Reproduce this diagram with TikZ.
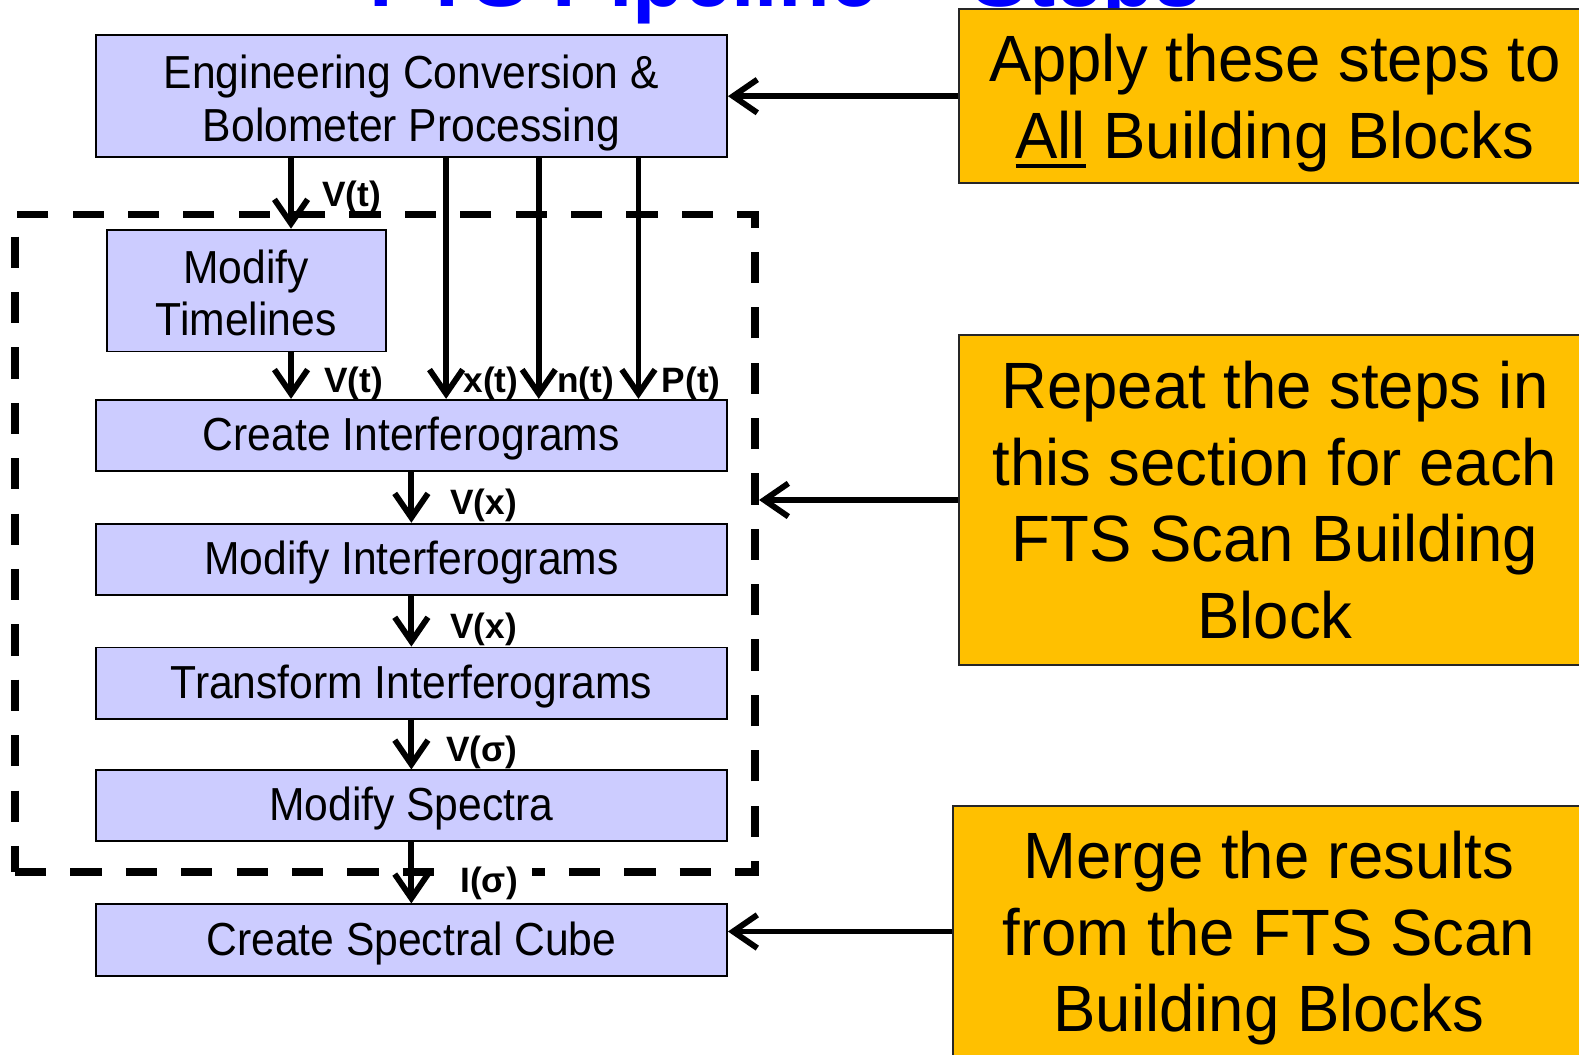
\documentclass[tikz,border=0pt]{standalone}
\usepackage{fontspec}
\setmainfont{Liberation Sans}
\newfontfamily\boxfont[FakeStretch=0.92]{Liberation Sans}
\newfontfamily\notefont[FakeStretch=0.97]{Liberation Sans}
\usetikzlibrary{arrows.meta}
\definecolor{boxblue}{RGB}{204,204,255}
\definecolor{boxorange}{RGB}{255,192,0}
\newcommand\myul[1]{\setbox0\hbox{#1}\rlap{\rule[-10pt]{\wd0}{4pt}}\box0\relax}
\begin{document}
\begin{tikzpicture}[x=1pt,y=-1pt,
  bluebox/.style={draw=black, line width=1.8pt, fill=boxblue, inner sep=0pt, align=center, font=\boxfont\fontsize{46}{52}\selectfont},
  oneline/.style={bluebox, minimum width=627pt, minimum height=71pt, text height=30pt, text depth=0pt},
  twoline/.style={bluebox, minimum height=121pt, text height=89.5pt, text depth=0pt},
  notebox/.style={draw=black!85, line width=2pt, fill=boxorange, inner sep=0pt, align=center, minimum width=628pt, font=\notefont\fontsize{65}{76}\selectfont},
  flow/.style={line width=5.8pt, -{Straight Barb[length=24pt, width=33pt]}},
  lbl/.style={font=\fontsize{35}{40}\selectfont\bfseries, inner sep=0pt, anchor=base west},
  dashframe/.style={draw=black, line width=7.5pt, dash pattern=on 31pt off 24pt, minimum width=735pt, minimum height=653pt, inner sep=0pt}
]
\useasboundingbox (0,0) rectangle (1568,1047);
\fill[white] (0,0) rectangle (1568,1047);

% title (cut off at top)
\node[font=\fontsize{84}{90}\selectfont\bfseries, text=blue, anchor=base, inner sep=0pt] (title) at (780,6) {FTS Pipeline – Steps};

% dashed frame
\node[dashframe] (loop) at (382.5,539.5) {};

% blue boxes
\node[twoline, minimum width=627pt] (eng) at (408.5,95.5) {Engineering Conversion \&\\Bolometer Processing};
\node[twoline, minimum width=277pt] (mt) at (244.5,288.5) {Modify\\Timelines};
\node[oneline] (ci) at (408.5,432.5) {Create Interferograms};
\node[oneline] (mi) at (408.5,555.5) {Modify Interferograms};
\node[oneline] (ti) at (408.5,678.5) {Transform Interferograms};
\node[oneline, minimum height=70pt] (ms) at (408.5,800) {Modify Spectra};
\node[oneline] (cube) at (408.5,933.5) {Create Spectral Cube};

% orange notes
\node[notebox, minimum height=173pt, text depth=0pt] (na) at (1266,95.5) {Apply these steps to\\\myul{All} Building Blocks};
\node[notebox, minimum height=327pt] (nb) at (1266,496.5) {Repeat the steps in\\this section for each\\FTS Scan Building\\Block};
\node[notebox, minimum height=250pt, text depth=0pt] (nc) at (1260,925) {Merge the results\\from the FTS Scan\\Building Blocks};

% column coordinates
\coordinate (cv) at (289,0);
\coordinate (cx) at (443,0);
\coordinate (cn) at (535,0);
\coordinate (cp) at (634,0);

% connectors
\draw[flow] (cv |- eng.south) -- (cv |- mt.north);
\draw[flow] (cv |- mt.south) -- (cv |- ci.north);
\draw[flow] (cx |- eng.south) -- (cx |- ci.north);
\draw[flow] (cn |- eng.south) -- (cn |- ci.north);
\draw[flow] (cp |- eng.south) -- (cp |- ci.north);
\draw[flow] (ci.south) -- (mi.north);
\draw[flow] (mi.south) -- (ti.north);
\draw[flow] (ti.south) -- (ms.north);

\draw[flow] (na.west) -- (na.west -| eng.east);
\draw[flow] (nb.west) -- (nb.west -| loop.east);
\draw[flow] (nc.west) -- (nc.west -| cube.east);

% labels
\node[lbl] (l1) at (320,205) {V(t)};
\node[lbl] (l2) at (322,390) {V(t)};
\node[lbl] (l3) at (460,390) {x(t)};
\node[lbl] (l4) at (553,390) {n(t)};
\node[lbl] (l5) at (657,390) {P(t)};
\node[lbl] (l6) at (447,511) {V(x)};
\node[lbl] (l7) at (447,634) {V(x)};
\node[lbl] (l8) at (443,756) {V(σ)};
\node[lbl, fill=white, inner xsep=14pt, inner ysep=3pt] (l9) at (443,886) {I(σ)};
\draw[flow] (ms.south) -- (cube.north);
\end{tikzpicture}
\end{document}
